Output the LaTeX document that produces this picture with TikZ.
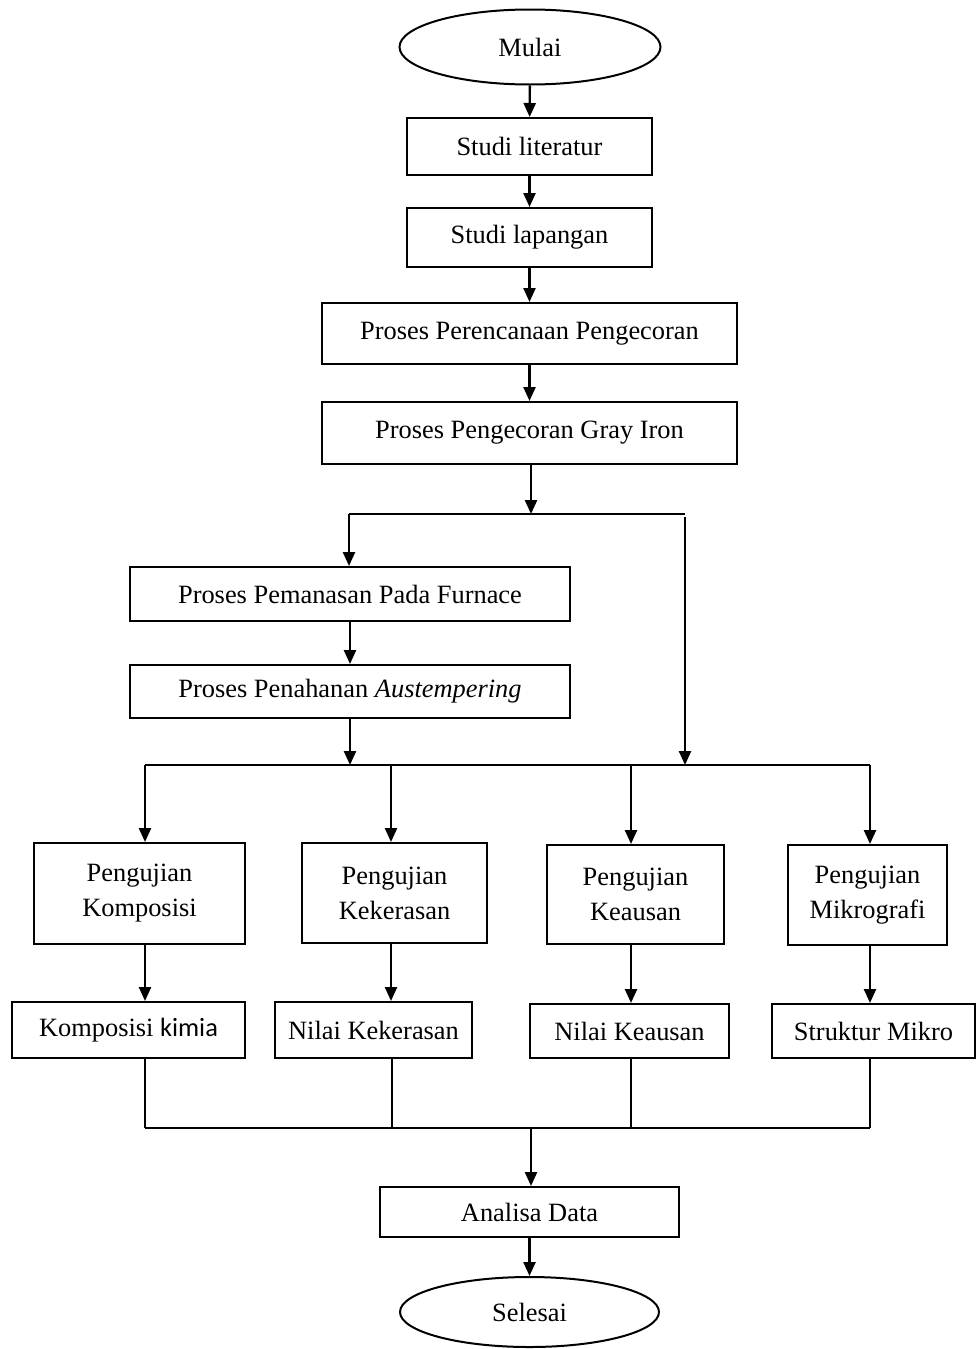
\documentclass[tikz,border=0pt]{standalone}
\usepackage{fontspec}
\setmainfont{Liberation Serif}
\newfontfamily\calibri{Carlito}
\usetikzlibrary{arrows.meta,shapes.geometric}

\begin{document}
\begin{tikzpicture}
  [x=0.5pt,y=-0.5pt,line width=1pt,
   every node/.style={draw,align=center,font=\fontsize{13.2}{17.5}\selectfont,inner sep=0pt},
   terminal/.style={ellipse},
   arr/.style={line width=1.2pt,-{Triangle[length=7pt,width=6pt]}}]
  \useasboundingbox (0,0) rectangle (979,1349);

  \node[terminal,minimum width=130.5pt,minimum height=37.5pt] (start) at (530,47) {Mulai};
  \node[minimum width=122.5pt,minimum height=28.5pt] (lit) at (529.5,146.5) {Studi literatur};
  \node[minimum width=122.5pt,minimum height=29.5pt] (lap) at (529.5,237.5) {Studi lapangan};
  \node[minimum width=207.5pt,minimum height=30.5pt] (plan) at (529.5,333.5) {Proses Perencanaan Pengecoran};
  \node[minimum width=207.5pt,minimum height=31pt] (cast) at (529.5,433) {Proses Pengecoran Gray Iron};
  \node[minimum width=220pt,minimum height=27pt] (heat) at (350,594) {Proses Pemanasan Pada Furnace};
  \node[minimum width=220pt,minimum height=26.5pt] (hold) at (350,691.5) {Proses Penahanan \textit{Austempering}};

  \node[minimum width=105.5pt,minimum height=50.5pt] (tkom) at (139.5,893.5) {Pengujian\\Komposisi};
  \node[minimum width=92.5pt,minimum height=50pt] (tker) at (394.5,893) {Pengujian\\Kekerasan};
  \node[minimum width=88.5pt,minimum height=49.5pt] (taus) at (635.5,894.5) {Pengujian\\Keausan};
  \node[minimum width=79.5pt,minimum height=50pt] (tmik) at (867.5,895) {Pengujian\\Mikrografi};

  \node[minimum width=116.5pt,minimum height=28pt] (rkom) at (128.5,1030) {Komposisi {\calibri kimia}};
  \node[minimum width=98.5pt,minimum height=28pt] (rker) at (373.5,1030) {Nilai Kekerasan};
  \node[minimum width=99.5pt,minimum height=27pt] (raus) at (629.5,1031) {Nilai Keausan};
  \node[minimum width=101.5pt,minimum height=27pt] (rmik) at (873.5,1031) {Struktur Mikro};

  \node[minimum width=149.5pt,minimum height=25pt] (data) at (529.5,1212) {Analisa Data};
  \node[terminal,minimum width=129.5pt,minimum height=35pt] (end) at (529.5,1312) {Selesai};

  % branch points
  \coordinate (sa) at (531,514);
  \coordinate (sl) at (349,514);
  \coordinate (sr) at (685,514);
  \coordinate (sr2) at (685,517);
  \coordinate (ja) at (685,765);
  \coordinate (jb) at (350,765);
  \coordinate (c1) at (145,765);
  \coordinate (c2) at (391,765);
  \coordinate (c3) at (631,765);
  \coordinate (c4) at (870,765);
  \coordinate (m1) at (145,1128);
  \coordinate (m2) at (392,1128);
  \coordinate (m3) at (631,1128);
  \coordinate (m4) at (870,1128);
  \coordinate (mm) at (531,1128);

  \foreach \from/\to in {start/lit,lit/lap,lap/plan,plan/cast,heat/hold,data/end}
    \draw[arr] (\from) -- (\to);
  \draw[arr] (cast.south -| sa) -- (sa);
  \draw[line width=1.2pt] (sl) -- (sr);
  \draw[arr] (sl) -- (heat.north -| sl);
  \draw[arr] (sr2) -- (ja);
  \draw[arr] (hold.south -| jb) -- (jb);
  \draw[line width=1.2pt] (c1) -- (c4);

  \foreach \col/\tst/\res/\low in {c1/tkom/rkom/m1,c2/tker/rker/m2,c3/taus/raus/m3,c4/tmik/rmik/m4}{
    \draw[arr] (\col) -- (\tst.north -| \col);
    \draw[arr] (\tst.south -| \col) -- (\res.north -| \col);
    \draw (\res.south -| \low) -- (\low);
  }
  \draw (m1) -- (m4);
  \draw[arr] (mm) -- (data.north -| mm);
\end{tikzpicture}
\end{document}
